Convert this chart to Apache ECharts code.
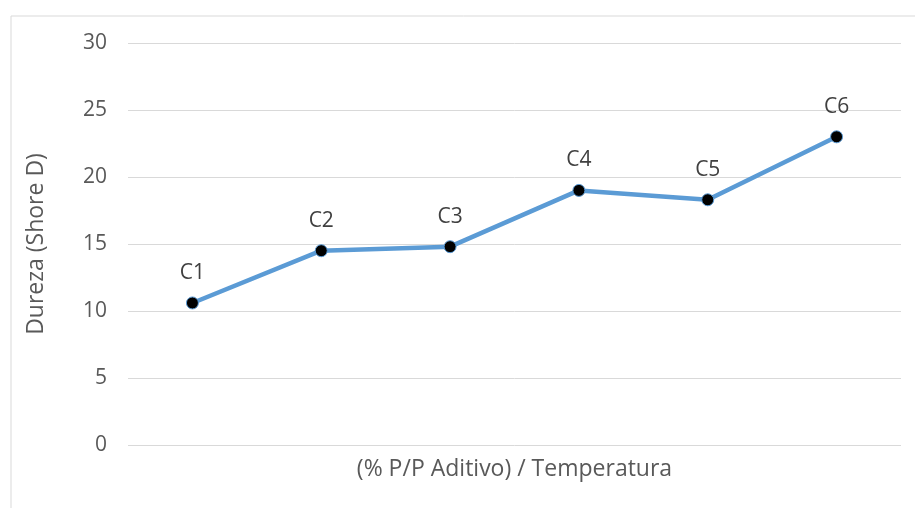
<!DOCTYPE html>
<html>
<head>
<meta charset="utf-8">
<script src="https://cdn.jsdelivr.net/npm/echarts@6/dist/echarts.min.js"></script>
<style>html,body{margin:0;padding:0;background:#fff;}#c{width:915px;height:508px;}</style>
</head>
<body>
<div id="c"></div>
<script>
const categories = ['C1', 'C2', 'C3', 'C4', 'C5', 'C6'];
const dureza = [10.6, 14.5, 14.8, 19.0, 18.3, 23.0];
const yTicks = [0, 5, 10, 15, 20, 25, 30];
const xTitle = '(% P/P Aditivo) / Temperatura';
const yTitle = 'Dureza (Shore D)';

const FONT = '"Open Sans", "Noto Sans", sans-serif';
const chart = echarts.init(document.getElementById('c'), null, {renderer: 'canvas'});
chart.setOption({
  animation: false,
  backgroundColor: '#ffffff',
  graphic: [{
    type: 'rect', left: 8.5, top: 13.5,
    shape: {width: 1000, height: 1000},
    style: {fill: 'none', stroke: '#d9d9d9', lineWidth: 1}
  }],
  grid: {left: 128, right: 14, top: 43, bottom: 63},
  xAxis: {
    type: 'category',
    data: categories,
    boundaryGap: true,
    axisLine: {show: false},
    axisTick: {show: false},
    axisLabel: {show: false},
    name: xTitle,
    nameLocation: 'middle',
    nameGap: 13,
    nameTextStyle: {fontFamily: FONT, fontSize: 23, color: '#595959'}
  },
  yAxis: {
    type: 'value',
    min: yTicks[0], max: yTicks[yTicks.length - 1], interval: 5,
    axisLine: {show: false},
    axisTick: {show: false},
    axisLabel: {margin: 21, fontFamily: FONT, fontSize: 21, color: '#595959'},
    splitLine: {lineStyle: {color: '#d9d9d9', width: 1}},
    name: yTitle,
    nameLocation: 'middle',
    nameGap: 80,
    nameTextStyle: {fontFamily: FONT, fontSize: 23, color: '#595959'}
  },
  series: [{
    type: 'line',
    data: dureza,
    lineStyle: {color: '#5B9BD5', width: 4.5},
    symbol: 'circle',
    symbolSize: 12,
    itemStyle: {color: '#000000', borderColor: '#5B9BD5', borderWidth: 1},
    label: {
      show: true, position: 'top', distance: 13,
      formatter: p => categories[p.dataIndex],
      fontFamily: FONT, fontSize: 21, color: '#404040'
    }
  }]
});
</script>
</body>
</html>
